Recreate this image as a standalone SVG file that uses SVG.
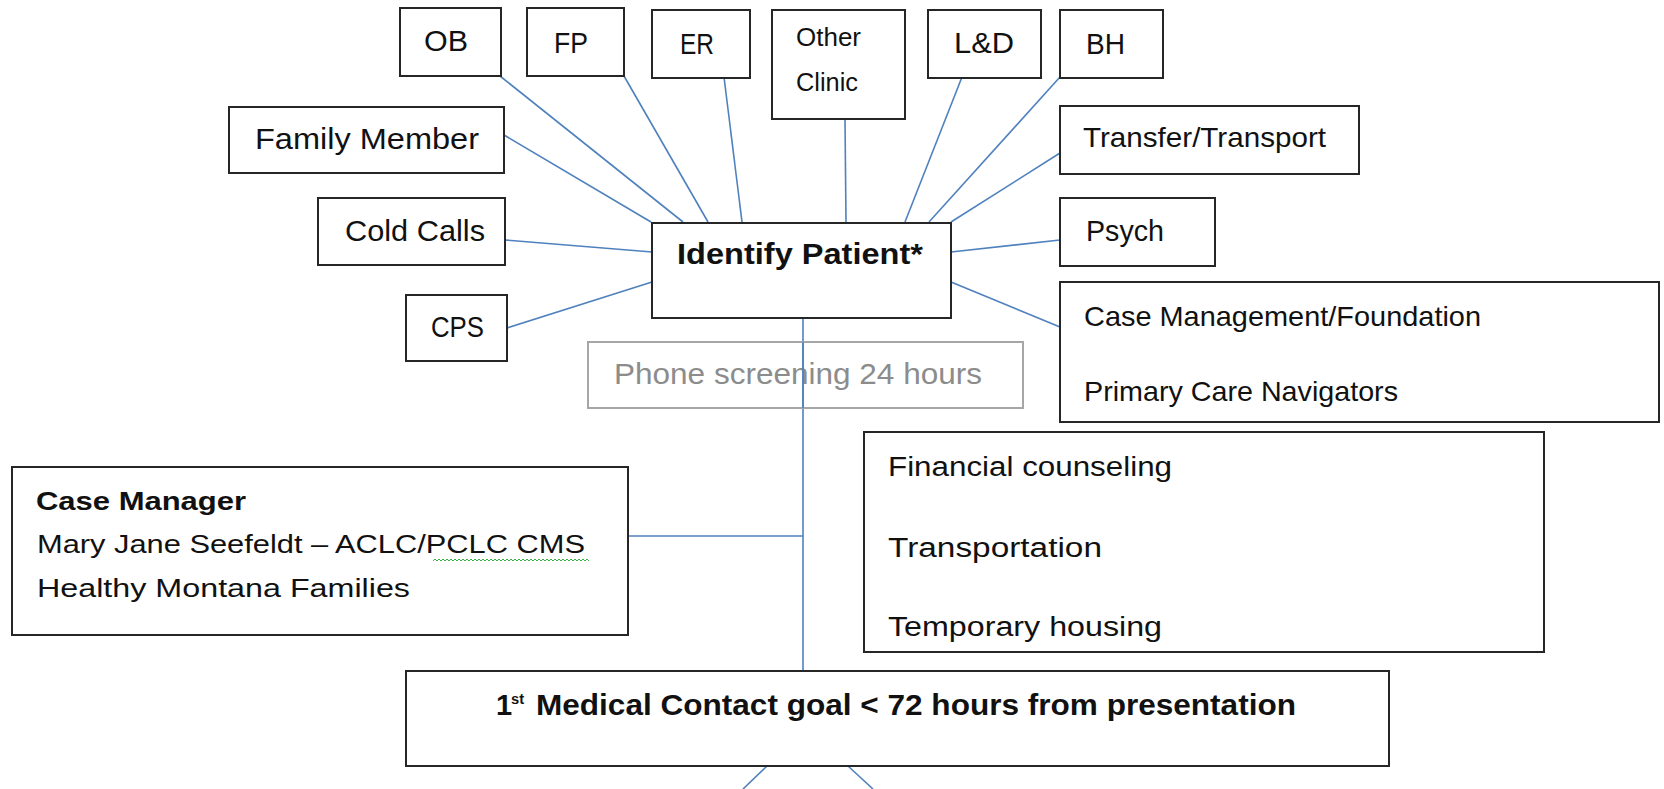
<svg xmlns="http://www.w3.org/2000/svg" width="1664" height="789" viewBox="0 0 1664 789">
<style>
.box{fill:#fff;stroke:#262626;stroke-width:2}
.gbox{fill:none;stroke:#a6a6a6;stroke-width:2}
.c{stroke:#4f81bd;stroke-width:1.6;fill:none}
text{font-family:"Liberation Sans",Arial,sans-serif;fill:#111}
.t29{font-size:29px}
.t28{font-size:28px}
.t27{font-size:27px}
.t26{font-size:26px}
.t25{font-size:25px}
.b{font-weight:bold}
</style>
<rect width="1664" height="789" fill="#fff"/>
<g id="connectors">
<line class="c" x1="500" y1="76" x2="683" y2="222"/>
<line class="c" x1="624" y1="76" x2="708" y2="222"/>
<line class="c" x1="724" y1="77" x2="742" y2="222"/>
<line class="c" x1="845" y1="119" x2="846" y2="222"/>
<line class="c" x1="962" y1="77" x2="905" y2="222"/>
<line class="c" x1="1060" y1="77" x2="929" y2="222"/>
<line class="c" x1="504" y1="135" x2="651" y2="222"/>
<line class="c" x1="1060" y1="153" x2="951" y2="222"/>
<line class="c" x1="505" y1="240" x2="652" y2="252"/>
<line class="c" x1="1060" y1="240" x2="951" y2="252"/>
<line class="c" x1="507" y1="328" x2="652" y2="282"/>
<line class="c" x1="951" y1="282" x2="1060" y2="327"/>
<line class="c" x1="803" y1="318" x2="803" y2="670"/>
<line class="c" x1="628" y1="536" x2="803" y2="536"/>
<line class="c" x1="767" y1="766" x2="743" y2="789"/>
<line class="c" x1="848" y1="766" x2="873" y2="789"/>
</g>
<g id="ob"><rect class="box" x="400" y="8" width="101" height="68"/><text class="t29" x="424" y="51" textLength="44" lengthAdjust="spacingAndGlyphs">OB</text></g>
<g id="fp"><rect class="box" x="527" y="8" width="97" height="68"/><text class="t29" x="554" y="53" textLength="34" lengthAdjust="spacingAndGlyphs">FP</text></g>
<g id="er"><rect class="box" x="652" y="10" width="98" height="68"/><text class="t29" x="680" y="54" textLength="34" lengthAdjust="spacingAndGlyphs">ER</text></g>
<g id="other-clinic"><rect class="box" x="772" y="10" width="133" height="109"/><text class="t25" x="796" y="46" textLength="65" lengthAdjust="spacingAndGlyphs">Other</text><text class="t25" x="796" y="91" textLength="62" lengthAdjust="spacingAndGlyphs">Clinic</text></g>
<g id="ld"><rect class="box" x="928" y="10" width="113" height="68"/><text class="t29" x="954" y="53" textLength="60" lengthAdjust="spacingAndGlyphs">L&amp;D</text></g>
<g id="bh"><rect class="box" x="1060" y="10" width="103" height="68"/><text class="t29" x="1086" y="54" textLength="39" lengthAdjust="spacingAndGlyphs">BH</text></g>
<g id="family-member"><rect class="box" x="229" y="107" width="275" height="66"/><text class="t29" x="255" y="149" textLength="224" lengthAdjust="spacingAndGlyphs">Family Member</text></g>
<g id="transfer"><rect class="box" x="1060" y="106" width="299" height="68"/><text class="t28" x="1083" y="147" textLength="243" lengthAdjust="spacingAndGlyphs">Transfer/Transport</text></g>
<g id="cold-calls"><rect class="box" x="318" y="198" width="187" height="67"/><text class="t29" x="345" y="241" textLength="140" lengthAdjust="spacingAndGlyphs">Cold Calls</text></g>
<g id="psych"><rect class="box" x="1060" y="198" width="155" height="68"/><text class="t29" x="1086" y="241" textLength="78" lengthAdjust="spacingAndGlyphs">Psych</text></g>
<g id="cps"><rect class="box" x="406" y="295" width="101" height="66"/><text class="t29" x="431" y="337" textLength="53" lengthAdjust="spacingAndGlyphs">CPS</text></g>
<g id="identify"><rect class="box" x="652" y="223" width="299" height="95"/><text class="t29 b" x="677" y="264" textLength="246" lengthAdjust="spacingAndGlyphs">Identify Patient*</text></g>
<g id="case-mgmt"><rect class="box" x="1060" y="282" width="599" height="140"/><text class="t28" x="1084" y="326" textLength="397" lengthAdjust="spacingAndGlyphs">Case Management/Foundation</text><text class="t28" x="1084" y="401" textLength="314" lengthAdjust="spacingAndGlyphs">Primary  Care Navigators</text></g>
<g id="phone"><rect class="gbox" x="588" y="342" width="435" height="66"/><text class="t29" x="614" y="384" textLength="368" lengthAdjust="spacingAndGlyphs" style="fill:#8c8c8c">Phone screening 24 hours</text></g>
<line class="c" x1="803" y1="342" x2="803" y2="408"/>
<g id="case-manager"><rect class="box" x="12" y="467" width="616" height="168"/>
<text class="t26 b" x="36" y="510" textLength="210" lengthAdjust="spacingAndGlyphs">Case Manager</text>
<text class="t26" x="37" y="553" textLength="548" lengthAdjust="spacingAndGlyphs">Mary Jane Seefeldt – ACLC/PCLC CMS</text>
<path d="M433 561 l2 -2 l2 2 l2 -2 l2 2 l2 -2 l2 2 l2 -2 l2 2 l2 -2 l2 2 l2 -2 l2 2 l2 -2 l2 2 l2 -2 l2 2 l2 -2 l2 2 l2 -2 l2 2 l2 -2 l2 2 l2 -2 l2 2 l2 -2 l2 2 l2 -2 l2 2 l2 -2 l2 2 l2 -2 l2 2 l2 -2 l2 2 l2 -2 l2 2 l2 -2 l2 2 l2 -2 l2 2 l2 -2 l2 2 l2 -2 l2 2 l2 -2 l2 2 l2 -2 l2 2 l2 -2 l2 2 l2 -2 l2 2 l2 -2 l2 2 l2 -2 l2 2 l2 -2 l2 2 l2 -2 l2 2 l2 -2 l2 2 l2 -2 l2 2 l2 -2 l2 2 l2 -2 l2 2 l2 -2 l2 2 l2 -2 l2 2 l2 -2 l2 2 l2 -2 l2 2 l2 -2 l2 2" fill="none" stroke="#3cb043" stroke-width="1"/>
<text class="t26" x="37" y="597" textLength="373" lengthAdjust="spacingAndGlyphs">Healthy Montana Families</text></g>
<g id="services"><rect class="box" x="864" y="432" width="680" height="220"/>
<text class="t27" x="888" y="476" textLength="284" lengthAdjust="spacingAndGlyphs">Financial counseling</text>
<text class="t27" x="888" y="557" textLength="214" lengthAdjust="spacingAndGlyphs">Transportation</text>
<text class="t27" x="888" y="636" textLength="274" lengthAdjust="spacingAndGlyphs">Temporary housing</text></g>
<g id="first-contact"><rect class="box" x="406" y="671" width="983" height="95"/>
<text class="t29 b" x="496" y="715">1</text><text class="b" x="511" y="704" style="font-size:14px" textLength="13" lengthAdjust="spacingAndGlyphs">st</text>
<text class="t29 b" x="536" y="715" textLength="760" lengthAdjust="spacingAndGlyphs">Medical Contact goal &lt; 72 hours from presentation</text></g>
</svg>
